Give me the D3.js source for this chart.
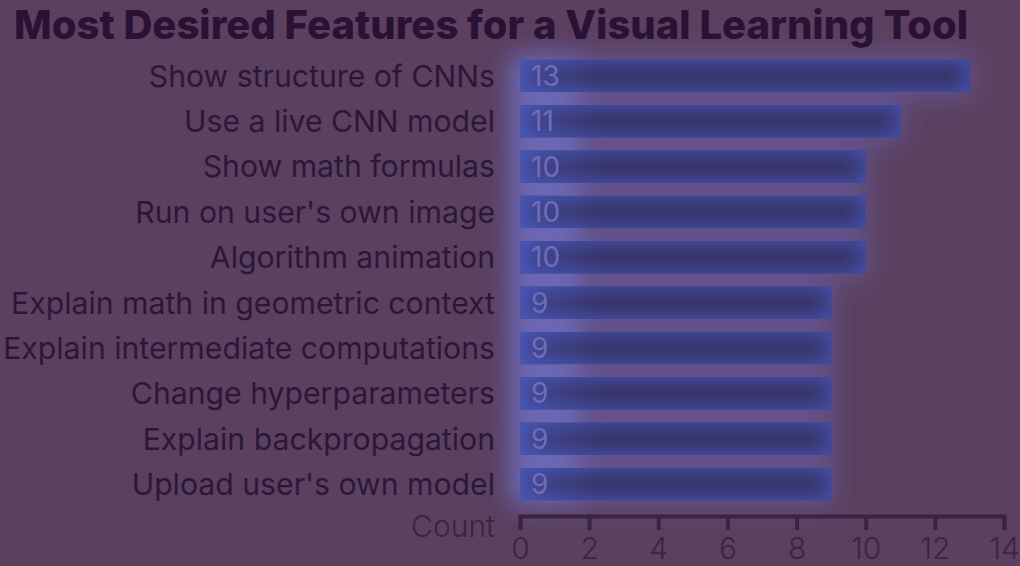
<!DOCTYPE html>
<html><head><meta charset="utf-8">
<script src="https://cdn.jsdelivr.net/npm/d3@7"></script>
<style>
html,body{margin:0;padding:0;background:#5b4060;}
svg{display:block;}
text{font-family:Inter,"Noto Sans",sans-serif;}
</style></head>
<body>
<svg id="chart" width="1020" height="566"></svg>
<script>
const title = "Most Desired Features for a Visual Learning Tool";
const features = ["Show structure of CNNs","Use a live CNN model","Show math formulas","Run on user's own image","Algorithm animation","Explain math in geometric context","Explain intermediate computations","Change hyperparameters","Explain backpropagation","Upload user's own model"];
const counts = [13,11,10,10,10,9,9,9,9,9];
const xTicks = [0,2,4,6,8,10,12,14];
const axisLabel = "Count";

const W = 1020, H = 566;
const svg = d3.select("#chart");
const defs = svg.append("defs");

defs.append("filter").attr("id","glow").attr("x","-50%").attr("y","-60%").attr("width","200%").attr("height","220%")
  .append("feGaussianBlur").attr("stdDeviation",12);

// inner glow filter
const inner = defs.append("filter").attr("id","innerGlow").attr("x","-20%").attr("y","-80%").attr("width","140%").attr("height","260%");
inner.append("feFlood").attr("flood-color","#4757b8").attr("result","flood");
inner.append("feComposite").attr("in","flood").attr("in2","SourceAlpha").attr("operator","out").attr("result","inv");
inner.append("feGaussianBlur").attr("in","inv").attr("stdDeviation",11).attr("result","blur");
inner.append("feComposite").attr("in","blur").attr("in2","SourceAlpha").attr("operator","in").attr("result","glow");
const m = inner.append("feMerge");
m.append("feMergeNode").attr("in","SourceGraphic");
m.append("feMergeNode").attr("in","glow");

const lg = defs.append("linearGradient").attr("id","leftGrad").attr("x1",0).attr("x2",1).attr("y1",0).attr("y2",0);
lg.append("stop").attr("offset",0).attr("stop-color","#4e5fc4").attr("stop-opacity",0.8);
lg.append("stop").attr("offset",1).attr("stop-color","#4e5fc4").attr("stop-opacity",0);

svg.append("rect").attr("width",W).attr("height",H).attr("fill","#5b4060");

const x = d3.scaleLinear().domain([0,14]).range([520,1004]);
const y = d3.scaleBand().domain(features).range([53,507]).paddingInner(0.29).paddingOuter(0.15);

const data = features.map((f,i)=>({f, v:counts[i]}));

// outer glow
svg.append("g").attr("filter","url(#glow)")
  .selectAll("rect").data(data).join("rect")
  .attr("x",x(0)-6).attr("y",d=>y(d.f)-6)
  .attr("width",d=>x(d.v)-x(0)+8).attr("height",y.bandwidth()+12)
  .attr("fill","#6f6fcc").attr("opacity",0.4);

// left column glow
svg.append("rect").attr("x",x(0)-10).attr("y",y(features[0])-2).attr("width",70)
  .attr("height",y(features[features.length-1])+y.bandwidth()-y(features[0])+4)
  .attr("fill","#7379d8").attr("opacity",0.55).attr("filter","url(#glow)");

// bars
svg.append("g").selectAll("rect").data(data).join("rect")
  .attr("x",x(0)).attr("y",d=>y(d.f)).attr("width",d=>x(d.v)-x(0)).attr("height",y.bandwidth())
  .attr("fill","#38305f").attr("filter","url(#innerGlow)");
// left blue fade on bars
svg.append("g").selectAll("rect").data(data).join("rect")
  .attr("x",x(0)).attr("y",d=>y(d.f)).attr("width",80).attr("height",y.bandwidth())
  .attr("fill","url(#leftGrad)").attr("opacity",0.6);

// value labels
svg.append("g").selectAll("text").data(data).join("text")
  .attr("x",x(0)+11).attr("y",d=>y(d.f)+y.bandwidth()/2)
  .attr("dy","0.36em").attr("font-size",28).attr("fill","#716cb8")
  .text(d=>d.v);

// category labels
svg.append("g").selectAll("text").data(data).join("text")
  .attr("x",495).attr("y",d=>y(d.f)+y.bandwidth()/2)
  .attr("dy","0.36em").attr("text-anchor","end").attr("font-size",30.2).attr("fill","#2b1838")
  .text(d=>d.f);

// axis
const axis = svg.append("g").attr("transform","translate(0,516)")
  .call(d3.axisBottom(x).tickValues(xTicks).tickSize(14).tickPadding(8));
axis.select(".domain").attr("stroke","#3a2444").attr("stroke-width",4);
axis.selectAll(".tick line").attr("stroke","#3a2444").attr("stroke-width",4);
axis.selectAll(".tick text").attr("font-size",30).attr("font-weight",300).attr("fill","#3a2444").attr("font-family","Inter,sans-serif");

svg.append("text").attr("x",495).attr("y",537).attr("text-anchor","end")
  .attr("font-size",30).attr("font-weight",300).attr("fill","#3a2444").text(axisLabel);

svg.append("text").attr("x",14).attr("y",39).attr("font-size",40).attr("font-weight",800)
  .attr("fill","#2a1235").text(title);
</script>
</body></html>
